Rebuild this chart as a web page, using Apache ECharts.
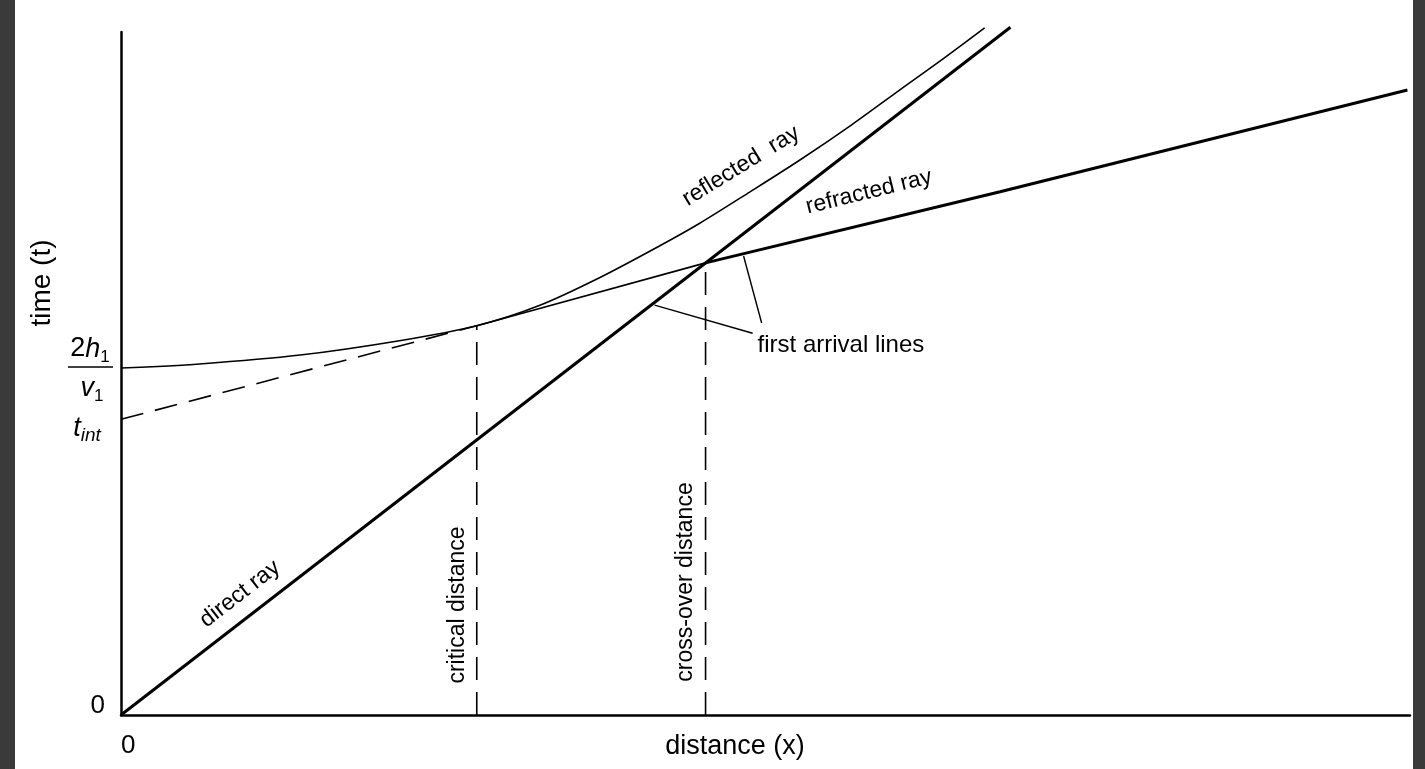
<!DOCTYPE html>
<html><head><meta charset="utf-8">
<script src="https://cdn.jsdelivr.net/npm/echarts@6/dist/echarts.min.js"></script>
<style>html,body{margin:0;padding:0;background:#fff}#c{width:1425px;height:769px}</style>
</head><body><div id="c"></div>
<script>
// ---- data (arbitrary units: distance 0..100, time 0..100) ----
const directX = [0, 69.0];
const directT = [0, 100.7];
const refractedX = [0, 27.6, 45.35, 68.2, 99.8];
const refractedT = [43.3, 57.0, 66.2, 76.6, 91.5];
const reflectedX = [0, 6.1, 13.9, 21.6, 27.6, 32.5, 37.2, 41.8, 44.9, 48.8, 52.7, 56.6, 60.4, 63.8, 67.0];
const reflectedT = [50.8, 51.4, 52.7, 54.8, 57.0, 60.0, 64.1, 68.7, 72.0, 76.6, 81.3, 86.3, 91.5, 96.1, 100.6];
const criticalDistance = 27.6;
const crossoverDistance = 45.35;
const interceptReflected = 50.8;   // 2h1/v1
const interceptRefracted = 43.3;   // t_int
const leaderA = [[41.4, 60.0], [49.0, 55.9]];
const leaderB = [[48.3, 67.2], [49.7, 57.4]];
const xTickLabels = ['0'];
const yTickLabels = ['0'];

// ---- chart ----
const FONT = '"Liberation Sans", Arial, Helvetica, sans-serif';
const chart = echarts.init(document.getElementById('c'), null, {renderer: 'canvas'});
const pairs = (xs, ys) => xs.map((x, i) => [x, ys[i]]);
const refr = pairs(refractedX, refractedT);
const iCrit = refractedX.indexOf(criticalDistance);
const iCross = refractedX.indexOf(crossoverDistance);
const valAt = (x) => refractedT[refractedX.indexOf(x)];
function line(data, width, dashed) {
  return {type: 'line', data, symbol: 'none', clip: false, silent: true, animation: false,
    lineStyle: {color: '#000', width, type: dashed ? [23, 12] : 'solid', cap: 'butt'}};
}
const option = {
  animation: false,
  backgroundColor: '#fff',
  grid: {left: 121, right: 15, top: 32, bottom: 54},
  xAxis: {type: 'value', min: 0, max: 100, interval: 100,
    axisLine: {lineStyle: {color: '#000', width: 2.5}}, axisTick: {show: false}, splitLine: {show: false},
    axisLabel: {formatter: v => v === 0 ? xTickLabels[0] : '', color: '#000', fontSize: 26, fontFamily: FONT, margin: 18, align: 'left'}},
  yAxis: {type: 'value', min: 0, max: 100, interval: 100,
    axisLine: {show: true, lineStyle: {color: '#000', width: 2.5}}, axisTick: {show: false}, splitLine: {show: false},
    axisLabel: {formatter: v => v === 0 ? yTickLabels[0] : '', color: '#000', fontSize: 26, lineHeight: 18, fontFamily: FONT, margin: 16, verticalAlign: 'bottom'}},
  series: [
    line(pairs(directX, directT), 3, false),
    line(refr.slice(0, iCrit + 1), 1.6, true),
    line(refr.slice(iCrit, iCross + 1), 1.6, false),
    line(refr.slice(iCross), 3, false),
    Object.assign(line(pairs(reflectedX, reflectedT), 1.6, false), {smooth: 0.3}),
    line([[criticalDistance, 0], [criticalDistance, valAt(criticalDistance)]], 1.6, true),
    line([[crossoverDistance, 0], [crossoverDistance, valAt(crossoverDistance)]], 1.6, true),
    line(leaderA, 1.4, false),
    line(leaderB, 1.4, false)
  ]
};
chart.setOption(option);

const px = (x, y) => chart.convertToPixel({gridIndex: 0}, [x, y]);
const T = (text, x, y, opts) => Object.assign({type: 'text', x, y, silent: true,
  style: Object.assign({text, fill: '#000', fontSize: 22, fontFamily: FONT, align: 'center', verticalAlign: 'middle'}, opts && opts.style || {})},
  opts && opts.rotation !== undefined ? {rotation: opts.rotation} : {});
const pR = px(0, interceptReflected);
const pI = px(0, interceptRefracted);
const pCrit = px(criticalDistance, 0);
const pCross = px(crossoverDistance, 0);
const dA = px(directX[0], directT[0]), dB = px(directX[1], directT[1]);
const angDirect = Math.atan2(dA[1] - dB[1], dB[0] - dA[0]);
const rB = px(refractedX[4], refractedT[4]), rA = px(refractedX[2], refractedT[2]);
const angRefr = Math.atan2(rA[1] - rB[1], rB[0] - rA[0]);
const lA = px(leaderA[1][0], leaderA[1][1]);
const rich = {
  i: {fontSize: 27, fontStyle: 'italic', fontFamily: FONT, lineHeight: 34, verticalAlign: 'middle'},
  n: {fontSize: 27, fontFamily: FONT, lineHeight: 34, verticalAlign: 'middle'},
  s: {fontSize: 17, fontFamily: FONT, lineHeight: 22, verticalAlign: 'bottom'},
  si: {fontSize: 19, fontStyle: 'italic', fontFamily: FONT, lineHeight: 24, verticalAlign: 'bottom'}
};
chart.setOption({graphic: [
  {type: 'rect', shape: {x: 0, y: 0, width: 15, height: 769}, style: {fill: '#3a3a3a'}, silent: true},
  {type: 'rect', shape: {x: 1413, y: 0, width: 12, height: 769}, style: {fill: '#3a3a3a'}, silent: true},
  T('time (t)', 42, 283, {rotation: Math.PI / 2, style: {fontSize: 28}}),
  T('{n|2}{i|h}{s|1}', pR[0] - 31, pR[1] - 19, {style: {rich}}),
  {type: 'line', shape: {x1: pR[0] - 53, y1: pR[1] - 1, x2: pR[0] - 8, y2: pR[1] - 1}, style: {stroke: '#000', lineWidth: 1.5}, silent: true},
  T('{i|v}{s|1}', pR[0] - 29, pR[1] + 20, {style: {rich}}),
  T('{i|t}{si|int}', pI[0] - 34, pI[1] + 9, {style: {rich}}),
  T('distance (x)', 735, 747, {style: {fontSize: 27}}),
  T('critical distance', pCrit[0] - 19, 605, {rotation: Math.PI / 2, style: {fontSize: 23}}),
  T('cross-over distance', pCross[0] - 20, 582, {rotation: Math.PI / 2, style: {fontSize: 23}}),
  T('direct ray', 240, 594, {rotation: angDirect, style: {fontSize: 23}}),
  T('reflected  ray', 741, 166, {rotation: 0.55, style: {fontSize: 23}}),
  T('refracted ray', 869, 192, {rotation: angRefr, style: {fontSize: 23}}),
  T('first arrival lines', lA[0] + 5, lA[1] + 12, {style: {fontSize: 24, align: 'left'}})
]});
</script>
</body></html>
